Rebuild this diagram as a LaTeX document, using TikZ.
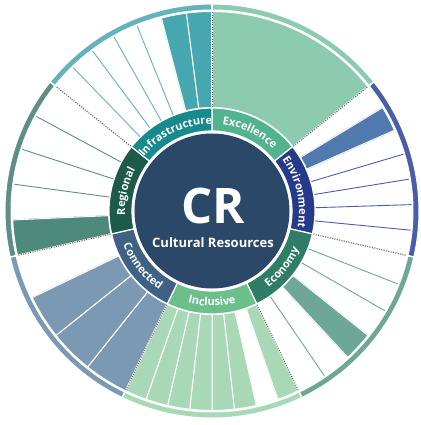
\documentclass[tikz,border=0pt]{standalone}
\usepackage{fontspec}
\setmainfont{Open Sans}
\usetikzlibrary{decorations.text}
\definecolor{CRNavy}{RGB}{44,72,104}
\definecolor{ExcRing}{RGB}{82,179,143}
\definecolor{ExcBar}{RGB}{141,203,176}
\definecolor{EnvRing}{RGB}{37,58,138}
\definecolor{EnvBar}{RGB}{80,121,174}
\definecolor{EnvArc}{RGB}{74,94,168}
\definecolor{EcoRing}{RGB}{47,125,102}
\definecolor{EcoBar}{RGB}{111,167,151}
\definecolor{IncRing}{RGB}{108,191,138}
\definecolor{IncBar}{RGB}{168,216,181}
\definecolor{ConRing}{RGB}{63,97,131}
\definecolor{ConBar}{RGB}{124,153,180}
\definecolor{RegRing}{RGB}{30,90,72}
\definecolor{RegBar}{RGB}{78,138,123}
\definecolor{RegArc}{RGB}{94,142,134}
\definecolor{InfRing}{RGB}{22,138,140}
\definecolor{InfBar}{RGB}{70,167,177}
\definecolor{InfArc}{RGB}{99,179,188}
\definecolor{DotGrey}{RGB}{100,100,100}

% annular piece: start angle, end angle, inner radius, outer radius
\newcommand{\ringpiece}[4]{(#1:#3) arc[start angle=#1, end angle=#2, radius=#3] -- (#2:#4) arc[start angle=#2, end angle=#1, radius=#4] -- cycle}

\begin{document}
\begin{tikzpicture}[x=1pt, y=1pt,
    ringpart/.style={draw=white, line width=1.2pt},
    barfill/.style={draw=white, line width=1pt},
    sectoredge/.style={DotGrey, line width=1pt, dash pattern=on 1pt off 1.4pt},
    ringlabel/.style={decorate, decoration={text along path, text align=center,
        text={|\color{white}\bfseries\fontsize{11}{11}\selectfont|#1}}}
  ]
  \useasboundingbox (-212,-214) rectangle (208,211);

  % bars, rim and ring, sector by sector
  \foreach \k/\ringc/\barc/\arcc/\n/\filled in {
      0/ExcRing/ExcBar/ExcBar/1/{1},
      1/EnvRing/EnvBar/EnvArc/7/{2},
      2/EcoRing/EcoBar/EcoBar/6/{4},
      3/IncRing/IncBar/IncBar/8/{1,3,4,5,6,7,8},
      4/ConRing/ConBar/ConBar/4/{1,2,3},
      5/RegRing/RegBar/RegArc/5/{1},
      6/InfRing/InfBar/InfArc/7/{6,7}}{
    \pgfmathsetmacro{\sa}{90-\k*360/7}
    \pgfmathsetmacro{\ea}{\sa-360/7}
    \pgfmathsetmacro{\w}{360/7/\n}
    \foreach \i in {0,...,\n}
      \draw[\arcc, line width=0.9pt] (\sa-\i*\w:103.5pt) -- (\sa-\i*\w:199.5pt);
    \foreach \i in \filled {
      \pgfmathsetmacro{\ba}{\sa-(\i-1)*\w}
      \pgfmathsetmacro{\bb}{\sa-\i*\w}
      \fill[\barc, barfill] \ringpiece{\ba}{\bb}{103.5pt}{199.5pt};
    }
    \fill[\arcc, draw=white, line width=1pt] \ringpiece{\sa}{\ea}{201pt}{207pt};
    \fill[\ringc, ringpart] \ringpiece{\sa}{\ea}{80pt}{103pt};
  }

  % dotted edges between sectors
  \foreach \k in {0,...,6}{
    \draw[white, line width=1.4pt] (90-\k*360/7:103pt) -- (90-\k*360/7:207.5pt);
    \draw[sectoredge] (90-\k*360/7:104pt) -- (90-\k*360/7:199.5pt);
  }

  \node[circle, fill=CRNavy, minimum size=155pt, inner sep=0pt] (hub) at (0,0) {};
  \node[text=white, font=\bfseries\fontsize{49}{49}\selectfont] (cr) at (1.5,5.5) {CR};
  \node[text=white, font=\bfseries\fontsize{13}{13}\selectfont] (crname) at (1,-32) {Cultural Resources};

  \path[ringlabel=Excellence] (90:87pt) arc[start angle=90, end angle=38.5714, radius=87pt];
  \path[ringlabel=Environment] (38.5714:87pt) arc[start angle=38.5714, end angle=-12.8571, radius=87pt];
  \path[ringlabel=Economy] (-64.2857:95pt) arc[start angle=-64.2857, end angle=-12.8571, radius=95pt];
  \path[ringlabel=Inclusive] (-115.7143:95pt) arc[start angle=-115.7143, end angle=-64.2857, radius=95pt];
  \path[ringlabel=Connected] (-167.1429:95pt) arc[start angle=-167.1429, end angle=-115.7143, radius=95pt];
  \path[ringlabel=Regional] (192.8571:87pt) arc[start angle=192.8571, end angle=141.4286, radius=87pt];
  \path[ringlabel=Infrastructure] (141.4286:87pt) arc[start angle=141.4286, end angle=90, radius=87pt];
\end{tikzpicture}
\end{document}
